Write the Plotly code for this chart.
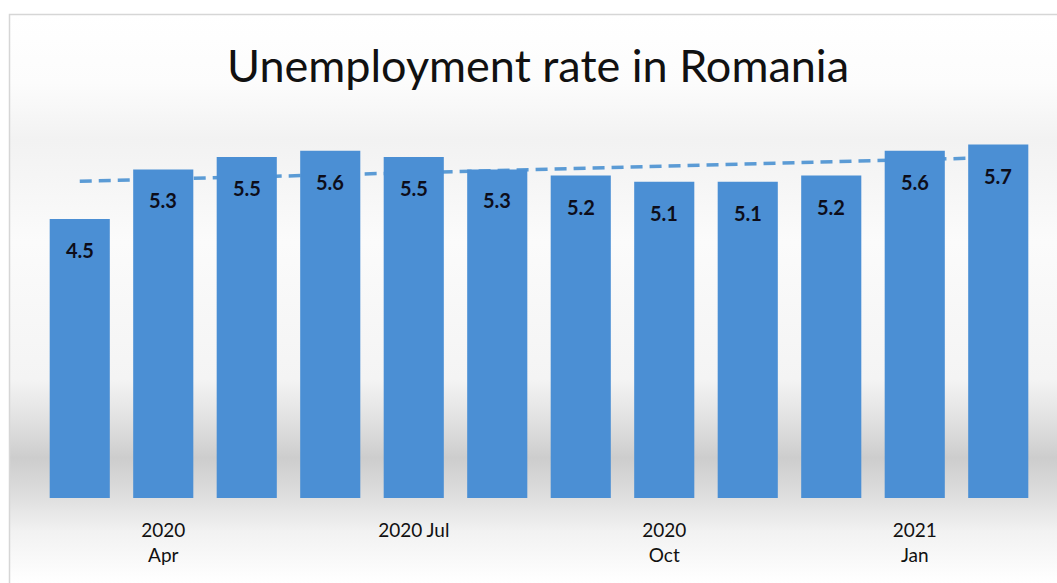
import numpy as np
import urllib.parse
import plotly.graph_objects as go

months = ["2020-03", "2020-04", "2020-05", "2020-06", "2020-07", "2020-08",
          "2020-09", "2020-10", "2020-11", "2020-12", "2021-01", "2021-02"]
rates = [4.5, 5.3, 5.5, 5.6, 5.5, 5.3, 5.2, 5.1, 5.1, 5.2, 5.6, 5.7]
tick_months = ["2020-04", "2020-07", "2020-10", "2021-01"]
tick_labels = ["2020<br>Apr", "2020 Jul", "2020<br>Oct", "2021<br>Jan"]
title_text = "Unemployment rate in Romania"

W, H = 1057, 583
L, R, T, B = 38, 17, 126, 85
pw, ph = W - L - R, H - T - B
def px(x):
    return (x - L) / pw
def py(y):
    return (H - B - y) / ph

idx = np.arange(len(rates))
coef = np.polyfit(idx + 1, rates, 1)
trend = np.polyval(coef, idx + 1)

FONT = "Lato, Open Sans, sans-serif"
bar_color = "#4b8fd4"
fig = go.Figure()
# trend line on primary axes (drawn beneath the overlaying bar axes)
fig.add_trace(go.Scatter(x=months, y=trend, mode="lines",
                         line=dict(color="#5b9bd5", width=3.5, dash="12px,7px"),
                         hoverinfo="skip", showlegend=False,
                         xaxis="x", yaxis="y"))
fig.add_trace(go.Bar(x=months, y=rates, marker=dict(color=bar_color, line=dict(width=0)),
                     showlegend=False, xaxis="x2", yaxis="y2"))

for m, v in zip(months, rates):
    fig.add_annotation(x=m, y=v, xref="x2", yref="y2", text=f"<b>{v}</b>",
                       showarrow=False, yshift=-31,
                       font=dict(family=FONT, size=20, color="#0d0d1a"))

svg = (
    "<svg xmlns='http://www.w3.org/2000/svg' width='1100' height='600' viewBox='0 0 1100 600' preserveAspectRatio='none'>"
    "<defs><linearGradient id='g' x1='0' y1='0' x2='0' y2='1'>"
    "<stop offset='0' stop-color='#ffffff'/>"
    "<stop offset='0.12' stop-color='#fcfcfc'/>"
    "<stop offset='0.22' stop-color='#f2f2f2'/>"
    "<stop offset='0.40' stop-color='#fbfbfb'/>"
    "<stop offset='0.64' stop-color='#f4f4f4'/>"
    "<stop offset='0.71' stop-color='#e2e2e2'/>"
    "<stop offset='0.78' stop-color='#cdcdcd'/>"
    "<stop offset='0.84' stop-color='#dcdcdc'/>"
    "<stop offset='0.91' stop-color='#f2f2f2'/>"
    "<stop offset='1' stop-color='#ffffff'/>"
    "</linearGradient></defs>"
    "<rect width='1100' height='600' fill='url(#g)'/></svg>"
)
src = "data:image/svg+xml;charset=utf-8," + urllib.parse.quote(svg)
fig.add_layout_image(dict(source=src, xref="paper", yref="paper",
                          x=px(10), y=py(15), sizex=px(1060) - px(10), sizey=py(15) - py(583),
                          xanchor="left", yanchor="top", sizing="stretch", layer="below"))

fig.add_shape(type="rect", xref="paper", yref="paper",
              x0=px(9.5), x1=px(1070), y0=py(14.5), y1=py(600),
              line=dict(color="#d6d6d6", width=1.5), fillcolor="rgba(0,0,0,0)", layer="above")

axis_common = dict(type="category", categoryorder="array", categoryarray=months,
                   showgrid=False, zeroline=False, showline=False)
fig.update_layout(
    width=W, height=H,
    margin=dict(l=L, r=R, t=T, b=B),
    paper_bgcolor="white", plot_bgcolor="rgba(0,0,0,0)",
    bargap=0.28,
    title=dict(text=title_text, x=538 / W, xref="container", xanchor="center",
               y=1 - 66 / H, yanchor="middle",
               font=dict(family=FONT, size=45, color="#111111")),
    xaxis=dict(**axis_common, tickmode="array", tickvals=tick_months, ticktext=tick_labels,
               tickfont=dict(family=FONT, size=19, color="#111111"),
               ticks="", ticklen=0, ticklabelstandoff=19),
    yaxis=dict(range=[0, 6], visible=False),
    xaxis2=dict(**axis_common, overlaying="x", visible=False, matches="x"),
    yaxis2=dict(range=[0, 6], overlaying="y", visible=False),
)

fig.write_html("out.html")
